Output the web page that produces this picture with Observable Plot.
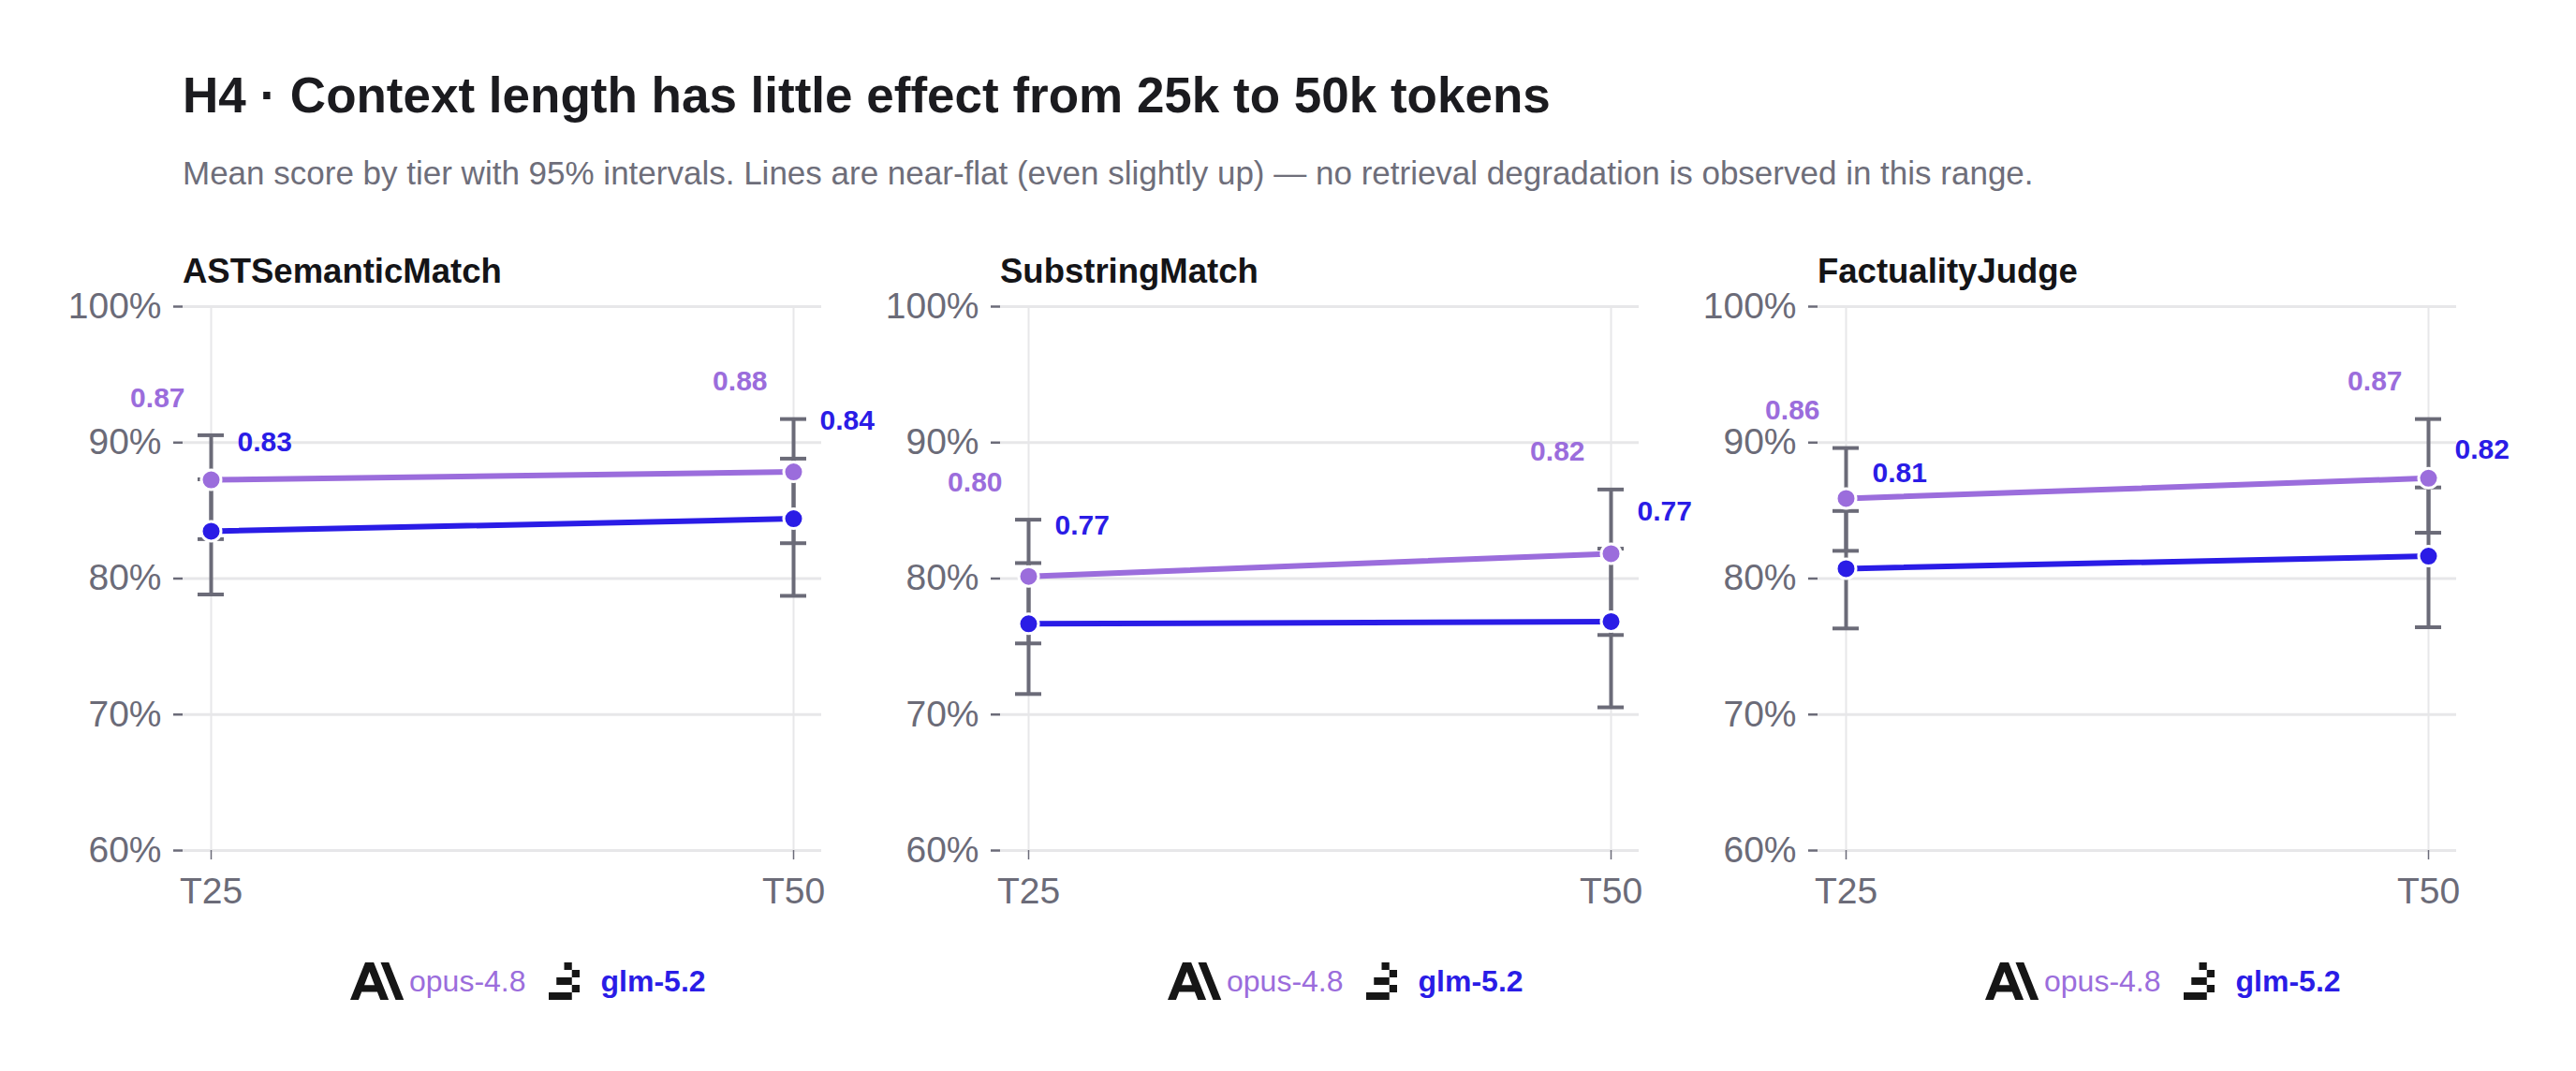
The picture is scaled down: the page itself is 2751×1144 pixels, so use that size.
<!DOCTYPE html>
<html>
<head>
<meta charset="utf-8">
<script src="https://cdn.jsdelivr.net/npm/d3@7"></script>
<script src="https://cdn.jsdelivr.net/npm/@observablehq/plot@0.6"></script>
<style>
  body { margin: 0; background: #fff; }
  #root {
    position: relative; width: 2751px; height: 1144px; background: #fff; overflow: hidden;
    font-family: "Liberation Sans", Arial, Helvetica, sans-serif;
  }
  .title { position: absolute; left: 195px; top: 75px; font-size: 53px; font-weight: 700; color: #1b1b1f; line-height: 1; white-space: nowrap; }
  .subtitle { position: absolute; left: 195px; top: 167px; font-size: 35px; color: #6e6e7a; line-height: 1; white-space: nowrap; }
  .panel-title { position: absolute; top: 272px; font-size: 36.5px; font-weight: 700; color: #141417; line-height: 1; white-space: nowrap; }
  .panel { position: absolute; top: 296px; }
  .panel svg { overflow: visible; }
  .legend { position: absolute; top: 1028px; height: 40px; display: flex; align-items: center; white-space: nowrap; }
  .legend .name { font-size: 32px; line-height: 1; }
</style>
</head>
<body>
<div id="root">
  <div class="title">H4 · Context length has little effect from 25k to 50k tokens</div>
  <div class="subtitle">Mean score by tier with 95% intervals. Lines are near-flat (even slightly up) — no retrieval degradation is observed in this range.</div>
</div>
<script>
// Context tiers, metrics and models
const tiers = ["T25", "T50"];
const metrics = ["ASTSemanticMatch", "SubstringMatch", "FactualityJudge"];
const models = ["opus-4.8", "glm-5.2"];
const modelColors = ["#9b6ddc", "#2a1ce6"];
const yTicks = [0.6, 0.7, 0.8, 0.9, 1.0];

// Mean score and 95% interval per metric (rows) and tier (columns)
const opusMean = [[0.8726, 0.8784], [0.8016, 0.8183], [0.8589, 0.8738]];
const opusLow  = [[0.829, 0.826], [0.7523, 0.7585], [0.8204, 0.8337]];
const opusHigh = [[0.9054, 0.9173], [0.8433, 0.8655], [0.896, 0.9173]];

const glmMean = [[0.8348, 0.844], [0.7667, 0.7684], [0.8073, 0.8165]];
const glmLow  = [[0.7883, 0.7873], [0.7151, 0.7053], [0.7633, 0.7642]];
const glmHigh = [[0.873, 0.8882], [0.8114, 0.822], [0.8497, 0.867]];

const root = document.getElementById("root");
const frameLefts = [195, 1068, 1941];
const ML = 150, MR = 70, MT = 31, MB = 70, FRAME_W = 682, FRAME_H = 581;
const axisGray = "#6b6b78";
const gridGray = "#e7e7e9";
const fontFamily = '"Liberation Sans", Arial, Helvetica, sans-serif';

const anthropicLogo = `<svg width="58" height="40" viewBox="0 0 46 32" preserveAspectRatio="none"><path fill="#161616" fill-rule="evenodd" d="M32.73 0h-6.945L38.45 32h6.945L32.73 0ZM12.665 0 0 32h7.082l2.59-6.72h13.25l2.59 6.72h7.082L19.929 0h-7.264Zm-.702 19.337 4.334-11.246 4.334 11.246h-8.668Z"/></svg>`;
const zaiLogo = `<svg width="33" height="40" viewBox="0 0 33 40"><g fill="#161616">
  <rect x="16.5" y="0" width="8.25" height="8"/>
  <rect x="24.75" y="8" width="8.25" height="8"/>
  <rect x="8.25" y="16" width="16.5" height="8"/>
  <rect x="24.75" y="24" width="8.25" height="8"/>
  <rect x="0" y="32" width="24.75" height="8"/></g></svg>`;

metrics.forEach((metric, i) => {
  const rows = [];
  tiers.forEach((tier, j) => {
    rows.push({model: models[0], tier, mean: opusMean[i][j], lo: opusLow[i][j], hi: opusHigh[i][j]});
    rows.push({model: models[1], tier, mean: glmMean[i][j], lo: glmLow[i][j], hi: glmHigh[i][j]});
  });
  const opusRows = rows.filter(d => d.model === models[0]);
  const glmRows = rows.filter(d => d.model === models[1]);

  const chart = Plot.plot({
    width: ML + FRAME_W + MR,
    height: MT + FRAME_H + MB,
    marginLeft: ML, marginRight: MR, marginTop: MT, marginBottom: MB,
    style: {fontFamily, background: "transparent", overflow: "visible"},
    x: {type: "point", domain: tiers, padding: 0.048},
    y: {domain: [0.6, 1.0]},
    color: {domain: models, range: modelColors},
    marks: [
      Plot.gridY(yTicks, {stroke: gridGray, strokeOpacity: 1, strokeWidth: 3}),
      Plot.gridX(tiers, {stroke: gridGray, strokeOpacity: 1, strokeWidth: 2}),
      Plot.axisY(yTicks, {
        tickFormat: d3.format(".0%"), tickSize: 10, tickPadding: 13,
        fontSize: 39, color: axisGray, strokeWidth: 2.5, label: null
      }),
      Plot.axisX(tiers, {
        tickSize: 10, tickPadding: 19, fontSize: 39, color: axisGray, strokeWidth: 1.5, label: null
      }),
      // 95% intervals with caps
      Plot.ruleX(rows, {x: "tier", y1: "lo", y2: "hi", stroke: axisGray, strokeWidth: 4}),
      Plot.ruleY(rows, {x1: "tier", x2: "tier", y: "lo", insetLeft: -14, insetRight: -14, stroke: axisGray, strokeWidth: 4}),
      Plot.ruleY(rows, {x1: "tier", x2: "tier", y: "hi", insetLeft: -14, insetRight: -14, stroke: axisGray, strokeWidth: 4}),
      // mean lines and points
      Plot.line(rows, {x: "tier", y: "mean", z: "model", stroke: "model", strokeWidth: 6}),
      Plot.dot(rows, {x: "tier", y: "mean", fill: "model", r: 10.5, stroke: "white", strokeWidth: 3}),
      // value labels above each interval
      Plot.text(opusRows, {
        x: "tier", y: "hi", text: d => d.mean.toFixed(2), dx: -28, dy: -40,
        textAnchor: "end", lineAnchor: "middle", fill: "model", fontSize: 30, fontWeight: 700
      }),
      Plot.text(glmRows, {
        x: "tier", y: "hi", text: d => d.mean.toFixed(2), dx: 28, dy: -40,
        textAnchor: "start", lineAnchor: "middle", fill: "model", fontSize: 30, fontWeight: 700
      })
    ]
  });

  const holder = document.createElement("div");
  holder.className = "panel";
  holder.style.left = (frameLefts[i] - ML) + "px";
  holder.appendChild(chart);
  root.appendChild(holder);

  const title = document.createElement("div");
  title.className = "panel-title";
  title.style.left = frameLefts[i] + "px";
  title.textContent = metric;
  root.appendChild(title);

  const legend = document.createElement("div");
  legend.className = "legend";
  legend.style.left = (frameLefts[i] + 179) + "px";
  legend.innerHTML =
    anthropicLogo +
    `<span class="name" style="color:${modelColors[0]};margin-left:5px">${models[0]}</span>` +
    `<span style="margin-left:24px;display:flex">${zaiLogo}</span>` +
    `<span class="name" style="color:${modelColors[1]};font-weight:700;margin-left:23px">${models[1]}</span>`;
  root.appendChild(legend);
});
</script>
</body>
</html>
